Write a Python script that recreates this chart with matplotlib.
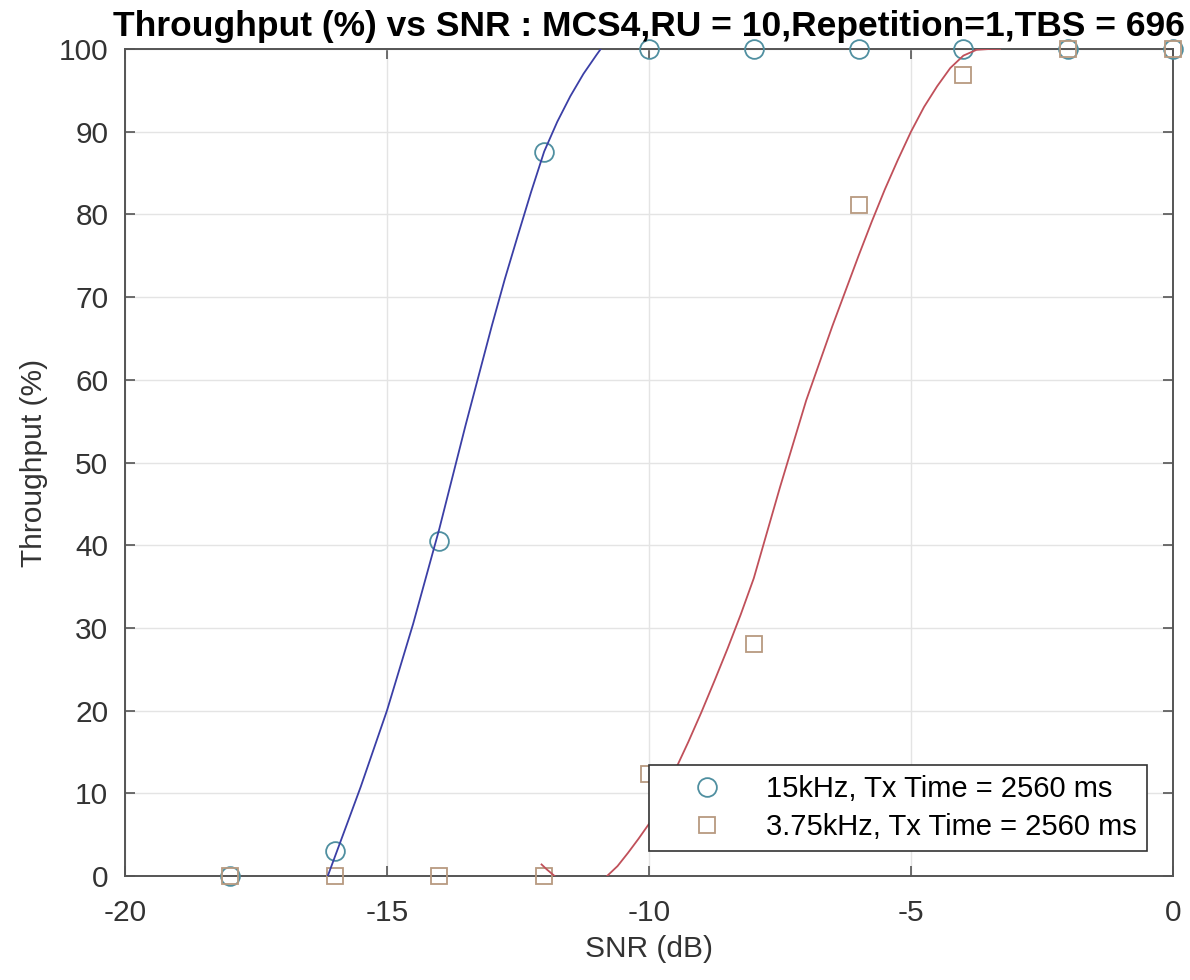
import numpy as np
import matplotlib
matplotlib.use("Agg")
import matplotlib.pyplot as plt

plt.rcParams['font.family'] = ['Liberation Sans', 'DejaVu Sans']
plt.rcParams['axes.unicode_minus'] = False

# measured points
snr = [-18, -16, -14, -12, -10, -8, -6, -4, -2, 0]
thr_15k = [0, 3, 40.5, 87.5, 100, 100, 100, 100, 100, 100]
thr_375k = [0, 0, 0, 0, 12.3, 28.1, 81.1, 96.9, 100, 100]

# fitted curves
fit15_x = [-16.13, -15.75, -15.5, -15.25, -15.0, -14.5, -14.0, -13.5, -13.0, -12.75, -12.5,
           -12.25, -12.0, -11.75, -11.5, -11.25, -11.0, -10.92]
fit15_y = [0, 6.5, 10.8, 15.4, 20, 30.5, 42, 54.5, 66.5, 72.2, 77.5,
           82.7, 87.6, 91.2, 94.3, 97.0, 99.3, 100]

fit375_x = [-12.05, -11.95, -11.8, np.nan, -10.8, -10.6, -10.4, -10.2, -10.0, -9.75, -9.5,
            -9.25, -9.0, -8.75, -8.5, -8.25, -8.0, -7.5, -7.0, -6.5, -6.0, -5.75, -5.5,
            -5.25, -5.0, -4.75, -4.5, -4.25, -4.0, -3.75, -3.5, -3.3]
fit375_y = [1.4, 0.8, 0, np.nan, 0, 1.2, 2.8, 4.5, 6.3, 9.3, 12.8,
            16.2, 19.8, 23.6, 27.5, 31.6, 36, 47, 57.5, 66.5, 75, 79.1, 83,
            86.6, 90, 93.0, 95.5, 97.7, 99.2, 99.9, 100, 100]

fig = plt.figure(figsize=(11.9, 9.8), dpi=100)
ax = fig.add_axes([0.105, 0.1061, 0.8807, 0.8439])

ax.plot(snr, thr_15k, 'o', ms=13.5, mfc='none', mec='#4f8fa0', mew=1.3,
        clip_on=False, zorder=3, label='15kHz, Tx Time = 2560 ms')
ax.plot(snr, thr_375k, 's', ms=11, mfc='none', mec='#b89a80', mew=1.3,
        clip_on=False, zorder=3, label='3.75kHz, Tx Time = 2560 ms')
ax.plot(fit15_x, fit15_y, '-', color='#3b3fa6', lw=1.3, zorder=4)
ax.plot(fit375_x, fit375_y, '-', color='#c0505a', lw=1.3, zorder=4)

ax.set_xlim(-20, 0)
ax.set_ylim(0, 100)
ax.set_xticks([-20, -15, -10, -5, 0])
ax.set_yticks(range(0, 101, 10))
ax.grid(True, color='#e4e4e4', lw=1.0)
ax.set_axisbelow(True)
ax.tick_params(direction='in', length=7, width=1.2, color='#555555',
               labelsize=21.5, labelcolor='#333333', top=True, right=True)
ax.tick_params(axis='y', pad=12)
ax.tick_params(axis='x', pad=16.5)
for s in ax.spines.values():
    s.set_color('#555555')
    s.set_linewidth(1.4)

ax.set_title('Throughput (%) vs SNR : MCS4,RU = 10,Repetition=1,TBS = 696',
             fontsize=25.5, fontweight='bold', pad=9)
ax.set_xlabel('SNR (dB)', fontsize=21.5, color='#333333', labelpad=6)
ax.set_ylabel('Throughput (%)', fontsize=21.5, color='#333333', labelpad=8)

leg = ax.legend(loc='lower right', bbox_to_anchor=(0.975, 0.03), fontsize=21,
                frameon=True, fancybox=False, edgecolor='#333333',
                borderpad=0.35, labelspacing=0.35, handletextpad=0.35,
                borderaxespad=0, handlelength=3.3)
leg.get_frame().set_linewidth(1.2)
leg.get_frame().set_alpha(1)

fig.savefig('out.png', dpi=100)
